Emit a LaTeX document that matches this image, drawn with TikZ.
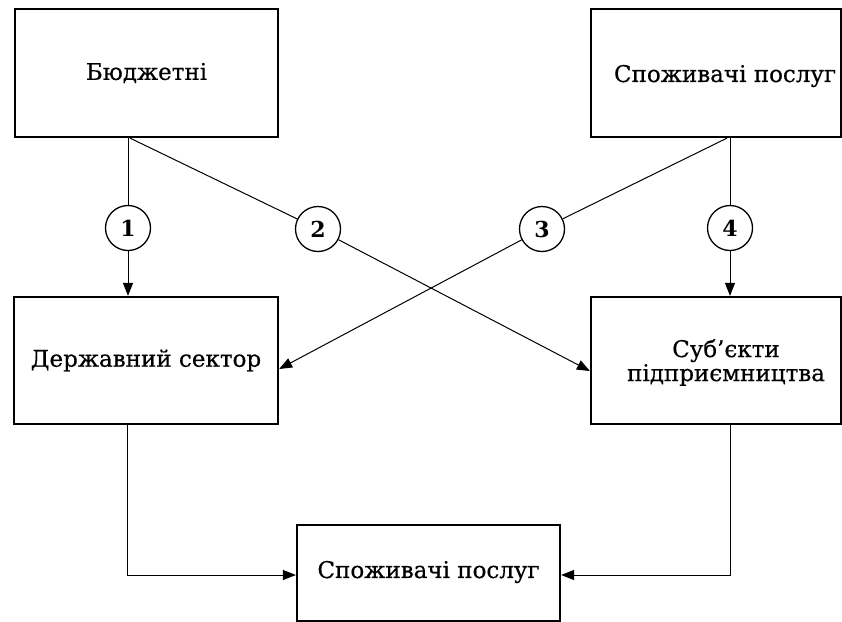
\documentclass[tikz,border=0pt]{standalone}
\usepackage{fontspec}
\setmainfont{DejaVu Serif}
\newfontfamily\txtfont[FakeBold=0.5]{DejaVu Serif}
\usetikzlibrary{arrows.meta,calc}
\begin{document}
\begin{tikzpicture}[x=1pt,y=-1pt,
  box/.style={draw,line width=2.2pt,rectangle,inner sep=0pt},
  txt/.style={align=center,inner sep=0pt,font=\txtfont\fontsize{23}{25}\selectfont},
  num/.style={draw,circle,line width=1.3pt,minimum size=45pt,inner sep=0pt,font=\bfseries\fontsize{22}{22}\selectfont},
  link/.style={line width=1pt},
  arr/.style={line width=1pt,-{Triangle[length=13pt,width=10pt]}}]
\useasboundingbox (0,0) rectangle (842,621);
\clip (0,0) rectangle (842,621);
\fill[white] (0,0) rectangle (842,621);
\node[box,minimum width=263pt,minimum height=128pt] (A) at (146.5,73) {};
\node[txt] (At) at (A.center) {Бюджетні};
\node[box,minimum width=250pt,minimum height=128pt] (B) at (716,73) {};
\node[txt] (Bt) at ($(B.center)+(9,3)$) {Споживачі послуг};
\node[box,minimum width=264pt,minimum height=127pt] (C) at (146,360.5) {};
\node[txt] (Ct) at (C.center) {Державний сектор};
\node[box,minimum width=250pt,minimum height=127pt] (D) at (716,360.5) {};
\node[txt] (Dt) at ($(D.center)+(10,2)$) {Суб’єкти\\[-1pt]підприємництва};
\node[box,minimum width=263pt,minimum height=96pt] (E) at (428.5,573) {};
\node[txt] (Et) at ($(E.center)+(0,-1)$) {Споживачі послуг};
% start/end coordinates
\coordinate (s1) at (A.south -| 128,0);
\coordinate (e1) at (C.north -| 128,0);
\coordinate (s2) at ($(A.south)+(-16.5,0)$);
\coordinate (e2) at ($(D.west)+(0,10.5)$);
\coordinate (s3) at ($(B.south)+(11,0)$);
\coordinate (e3) at ($(C.east)+(0,8.5)$);
\coordinate (s4) at ($(B.south)+(14,0)$);
\coordinate (e4) at ($(D.north)+(14,0)$);
\node[num] (n1) at (128,228) {1};
\node[num] (n2) at (318,229) {2};
\node[num] (n3) at (542,229) {3};
\node[num] (n4) at (730,228) {4};
\draw[link] (s1) -- (n1);
\draw[arr] (n1) -- (e1);
\draw[link] (s2) -- (n2);
\draw[arr] (n2) -- (e2);
\draw[link] (s3) -- (n3);
\draw[arr] (n3) -- (e3);
\draw[link] (s4) -- (n4);
\draw[arr] (n4) -- (e4);
\coordinate (c5) at (C.south -| 127,0);
\coordinate (d5) at (D.south -| 730,0);
\draw[arr] (c5) |- ($(E.west)+(0,2)$);
\draw[arr] (d5) |- ($(E.east)+(0,2)$);
\end{tikzpicture}
\end{document}
